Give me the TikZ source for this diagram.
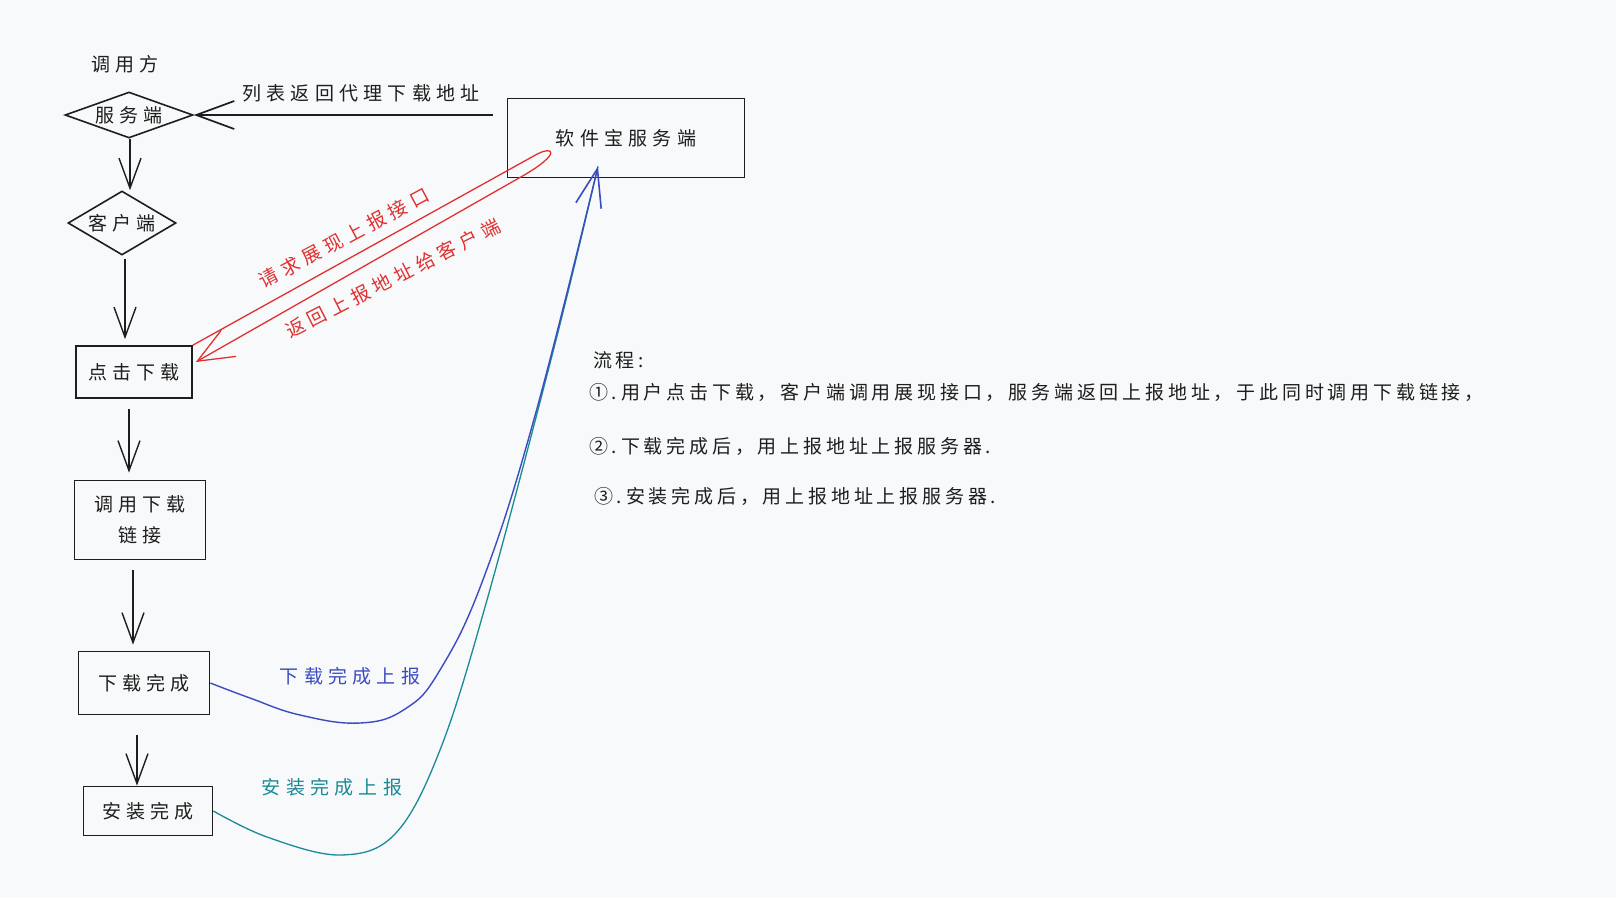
\documentclass[tikz,border=0pt]{standalone}
\usepackage{fontspec}
\setmainfont{Noto Sans CJK SC}
\newfontfamily\cjk{Noto Sans CJK SC}[LetterSpace=28]
\newfontfamily\cjkl{Noto Sans CJK SC}[LetterSpace=20]
\usetikzlibrary{arrows.meta,shapes.geometric,calc}
\definecolor{bg}{HTML}{F8F9FA}
\definecolor{ink}{HTML}{1E1E1E}
\definecolor{rd}{HTML}{E03131}
\definecolor{bl}{HTML}{3B4CC0}
\definecolor{tl}{HTML}{1A8A96}
\begin{document}
\begin{tikzpicture}[x=1pt,y=-1pt,
  lbl/.style={font=\cjk\fontsize{19}{24}\selectfont, text=ink, inner sep=0},
  listtxt/.style={font=\cjkl\fontsize{19}{24}\selectfont, text=ink, inner sep=0, anchor=west},
  box/.style={draw=ink, line width=1.7pt, inner sep=0, font=\cjk\fontsize{19}{31}\selectfont, text=ink, align=center},
  dia/.style={draw=ink, line width=1.6pt, shape=diamond, inner sep=0},
  flow/.style={draw=ink, line width=1.4pt, -{Straight Barb[length=30pt,width=22pt]}},
]
\fill[bg] (0,0) rectangle (1616,898);
\useasboundingbox (0,0) rectangle (1616,898);

% nodes
\node[lbl] (caller) at (125,64) {调用方};
\node[dia, minimum width=128pt, minimum height=46pt, label={[lbl]center:服务端}] (srv) at (129,115) {};
\node[dia, minimum width=108pt, minimum height=64pt, label={[lbl]center:客户端}] (cli) at (122,223) {};
\node[box, minimum width=116pt, minimum height=52pt] (click) at (134,372) {点击下载};
\node[box, minimum width=131pt, minimum height=79pt] (call) at (140,520) {调用下载\\链接};
\node[box, minimum width=131pt, minimum height=63pt] (done) at (144,683) {下载完成};
\node[box, minimum width=129pt, minimum height=49pt] (inst) at (148,811) {安装完成};
\node[box, minimum width=237pt, minimum height=79pt] (soft) at (626,138) {软件宝服务端};

% vertical flow
\draw[flow] ([xshift=1pt]srv.south) -- ([xshift=1pt]srv.south |- cli.north);
\draw[flow, shorten <=3pt, shorten >=6pt] ([xshift=3pt]cli.south) -- ([xshift=3pt]cli.south |- click.north);
\draw[flow, shorten <=10pt, shorten >=7pt] ([xshift=-5pt]click.south) -- ([xshift=-5pt]click.south |- call.north);
\draw[flow, shorten <=10pt, shorten >=6pt] ([xshift=-7pt]call.south) -- ([xshift=-7pt]call.south |- done.north);
\draw[flow, shorten <=20pt] ([xshift=-7pt]done.south) -- ([xshift=-7pt]done.south |- inst.north);

% list address back
\coordinate (lst) at ([xshift=-14pt]soft.west |- srv.east);
\draw[ink, line width=1.7pt, -{Straight Barb[length=38pt,width=28pt]}] (lst) -- (srv.east);
\node[lbl] (lstlbl) at (361,93) {列表返回代理下载地址};

% red request/return
\draw[rd, line width=1.3pt, -{Straight Barb[length=36pt,width=30pt]}]
  (click.north east) -- ($(soft.south west)+(30,-24)$)
  .. controls ($(soft.south west)+(47,-33)$) and ($(soft.south west)+(55,-25)$) .. ($(soft.south west)+(17,-3)$)
  -- ([xshift=3pt,yshift=10pt]click.east);
\node[lbl, text=rd, rotate=28] (req) at (344,238) {请求展现上报接口};
\node[lbl, text=rd, rotate=27] (ret) at (393,278) {返回上报地址给客户端};

% report curves
\coordinate (tip) at ($(soft.south)+(-28,-12)$);
\draw[tl, line width=1.3pt] plot[smooth, tension=0.6] coordinates {(inst.east) (267,837) (340,855) (395,834) (440,750) (487,600) (556,340) (tip)};
\draw[bl, line width=1.4pt, -{Straight Barb[length=38pt,width=26pt,line width=1.6pt]}] plot[smooth, tension=0.7] coordinates {(done.east) (250,698) (300,715) (360,723) (405,709) (440,670) (484,577) (536,412) (tip)};
\node[lbl, text=bl] (dlrep) at (350,676) {下载完成上报};
\node[lbl, text=tl] (insrep) at (332,787) {安装完成上报};

% process text
\node[listtxt] (p0) at (593,360) {流程:};
\node[listtxt] (p1) at (589,392) {①.用户点击下载，客户端调用展现接口，服务端返回上报地址，于此同时调用下载链接，};
\node[listtxt] (p2) at (589,446) {②.下载完成后，用上报地址上报服务器.};
\node[listtxt] (p3) at (594,496) {③.安装完成后，用上报地址上报服务器.};
\end{tikzpicture}
\end{document}
